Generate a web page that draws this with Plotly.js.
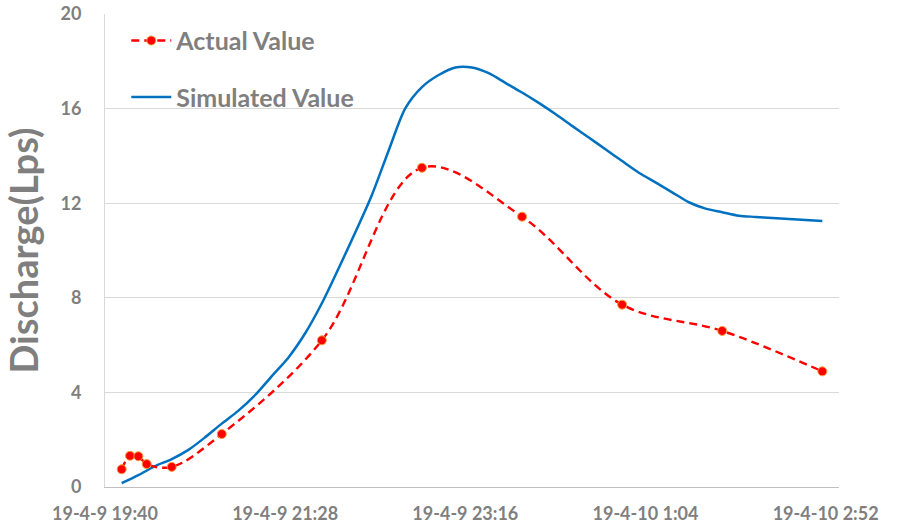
<!DOCTYPE html>
<html><head><meta charset="utf-8">
<script src="https://cdn.plot.ly/plotly-3.0.1.min.js"></script>
<style>html,body{margin:0;padding:0;background:#fff;} #chart{width:897px;height:525px;}</style>
</head><body><div id="chart"></div>
<script>
const actualTimes = ['2019-04-09 19:50','2019-04-09 19:55','2019-04-09 20:00','2019-04-09 20:05','2019-04-09 20:20','2019-04-09 20:50','2019-04-09 21:50','2019-04-09 22:50','2019-04-09 23:50','2019-04-10 00:50','2019-04-10 01:50','2019-04-10 02:50'];
const actualValues = [0.75, 1.32, 1.30, 0.97, 0.85, 2.24, 6.20, 13.50, 11.43, 7.71, 6.60, 4.89];

const simTimes = ['2019-04-09 19:50','2019-04-09 20:00','2019-04-09 20:10','2019-04-09 20:20','2019-04-09 20:30','2019-04-09 20:40','2019-04-09 20:50','2019-04-09 21:00','2019-04-09 21:10','2019-04-09 21:20','2019-04-09 21:30','2019-04-09 21:40','2019-04-09 21:50','2019-04-09 22:00','2019-04-09 22:10','2019-04-09 22:20','2019-04-09 22:30','2019-04-09 22:40','2019-04-09 22:50','2019-04-09 23:00','2019-04-09 23:10','2019-04-09 23:20','2019-04-09 23:30','2019-04-09 23:40','2019-04-09 23:50','2019-04-10 00:00','2019-04-10 00:10','2019-04-10 00:20','2019-04-10 00:30','2019-04-10 00:40','2019-04-10 00:50','2019-04-10 01:00','2019-04-10 01:10','2019-04-10 01:20','2019-04-10 01:30','2019-04-10 01:40','2019-04-10 01:50','2019-04-10 02:00','2019-04-10 02:10','2019-04-10 02:20','2019-04-10 02:30','2019-04-10 02:40','2019-04-10 02:50'];
const simValues = [0.16, 0.50, 0.88, 1.18, 1.57, 2.10, 2.68, 3.23, 3.89, 4.69, 5.48, 6.50, 7.77, 9.24, 10.76, 12.35, 14.22, 16.01, 16.91, 17.42, 17.74, 17.74, 17.50, 17.09, 16.68, 16.24, 15.77, 15.27, 14.78, 14.28, 13.78, 13.29, 12.88, 12.46, 12.04, 11.77, 11.62, 11.47, 11.42, 11.37, 11.33, 11.29, 11.25];

const seriesNames = ['Actual Value', 'Simulated Value'];
const xRange = ['2019-04-09 19:40', '2019-04-10 03:00'];
const xTick0 = '2019-04-09 19:40';
const xTickStepMinutes = 108;
const yRange = [0, 20];
const yTickStep = 4;
const yTitle = 'Discharge(Lps)';

const FONT = 'Lato, "Liberation Sans", Arial, sans-serif';
const GRAY = '#7f7f7f';

const traces = [
  {
    x: simTimes, y: simValues, type: 'scatter', mode: 'lines',
    name: seriesNames[1], legendrank: 2, legendgroup: 'b',
    line: {color: '#0070c0', width: 2.5, shape: 'spline', smoothing: 0.8}
  },
  {
    x: actualTimes, y: actualValues, type: 'scatter', mode: 'lines+markers',
    name: seriesNames[0], legendrank: 1, legendgroup: 'a',
    line: {color: '#ff0000', width: 2.4, dash: '8px,5px', shape: 'spline', smoothing: 1},
    marker: {color: '#ff0000', size: 9, line: {color: '#f4a13c', width: 1}}
  }
];

const layout = {
  width: 897, height: 525,
  margin: {l: 105, r: 58, t: 14, b: 38},
  paper_bgcolor: '#ffffff', plot_bgcolor: '#ffffff',
  font: {family: FONT, color: GRAY, size: 18, weight: 'bold'},
  showlegend: true,
  legend: {
    x: 0.029, y: 0.992, xanchor: 'left', yanchor: 'top',
    bgcolor: 'rgba(0,0,0,0)',
    font: {family: FONT, size: 25, color: GRAY, weight: 'bold'},
    traceorder: 'grouped', tracegroupgap: 21, itemwidth: 40
  },
  xaxis: {
    type: 'date', range: xRange,
    tick0: xTick0, dtick: xTickStepMinutes * 60000,
    tickformat: '%y-%-m-%-d %-H:%M',
    showgrid: false, zeroline: false,
    showline: true, linecolor: '#bfbfbf', linewidth: 1,
    ticks: 'outside', ticklen: 10, tickcolor: 'rgba(0,0,0,0)',
    tickfont: {family: FONT, size: 18, color: GRAY, weight: 'bold'},
    automargin: false, fixedrange: true
  },
  yaxis: {
    range: yRange, dtick: yTickStep, tick0: 0,
    showgrid: true, gridcolor: '#d9d9d9', gridwidth: 1,
    zeroline: false,
    showline: true, linecolor: '#d9d9d9', linewidth: 1,
    ticks: 'outside', ticklen: 19, tickcolor: 'rgba(0,0,0,0)',
    tickfont: {family: FONT, size: 18, color: GRAY, weight: 'bold'},
    title: {text: yTitle, font: {family: FONT, size: 38, color: GRAY, weight: 'bold'}, standoff: 16},
    automargin: false, fixedrange: true
  }
};

Plotly.newPlot('chart', traces, layout, {displayModeBar: false, staticPlot: true});
</script>
</body></html>
